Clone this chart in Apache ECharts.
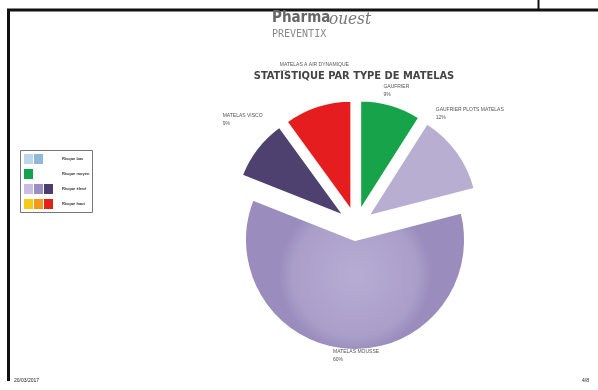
<!DOCTYPE html>
<html>
<head>
<meta charset="utf-8">
<script src="https://cdn.jsdelivr.net/npm/echarts@6/dist/echarts.min.js"></script>
<style>
  html, body { margin: 0; padding: 0; background: #fff; }
  #chart { width: 598px; height: 390px; }
</style>
</head>
<body>
<div id="chart"></div>
<script>
// Mattress types and their shares (%)
const categories = ['GAUFRIER', 'GAUFRIER PLOTS MATELAS', 'MATELAS MOUSSE', 'MATELAS VISCO', 'MATELAS A AIR DYNAMIQUE'];
const values = [9, 12, 60, 9, 10];
const sliceColors = ['#17a34a', '#b8aed2', '#aa9ec8', '#4e4170', '#e61d1f'];

// Risk legend rows
const legendLabels = ['Risque bas', 'Risque moyen', 'Risque élevé', 'Risque haut'];
const legendSwatches = [
  ['#bcd6ea', '#8fb9da'],
  ['#12a34f'],
  ['#c9bde3', '#9a8ec3', '#4a3e6e'],
  ['#f5cb17', '#f39a1c', '#e2211b']
];

// caption nudges (px): captions are left-aligned and pushed to their spots on the page
const labelShift = [[-13, -12], [-28, -37], [-10, 4], [-28, -28], [-32, -36]];

const chart = echarts.init(document.getElementById('chart'), null, { renderer: 'canvas' });

const graphics = [
  // page frame
  { type: 'line', shape: { x1: 7, y1: 10, x2: 598, y2: 10 }, style: { stroke: '#111', lineWidth: 3 } },
  { type: 'line', shape: { x1: 8.5, y1: 9, x2: 8.5, y2: 381 }, style: { stroke: '#111', lineWidth: 3 } },
  { type: 'line', shape: { x1: 538.5, y1: 0, x2: 538.5, y2: 10 }, style: { stroke: '#111', lineWidth: 2 } },
  // logo
  { type: 'text', left: 272, top: 11, style: { text: 'Pharma', font: 'bold 15px "DejaVu Sans Condensed"', fill: '#666' } },
  { type: 'text', left: 329, top: 11, style: { text: 'ouest', font: 'italic 17px "DejaVu Serif Condensed"', fill: '#777' } },
  { type: 'text', left: 272, top: 29, style: { text: 'PREVENTIX', font: '10px "DejaVu Sans Mono"', fill: '#8a8a8a', letterSpacing: 5 } },
  // footer
  { type: 'text', left: 14, top: 378, style: { text: '20/03/2017', font: '5px "Liberation Sans"', fill: '#222' } },
  { type: 'text', left: 582, top: 378, style: { text: '4/8', font: '5px "Liberation Sans"', fill: '#222' } },
  // legend box
  { type: 'rect', shape: { x: 20.5, y: 150.5, width: 72, height: 62 }, style: { fill: '#fff', stroke: '#777', lineWidth: 1 } }
];

legendSwatches.forEach(function (row, i) {
  row.forEach(function (c, j) {
    graphics.push({ type: 'rect', shape: { x: 24 + j * 10, y: 154 + i * 15, width: 9, height: 10 }, style: { fill: c } });
  });
  graphics.push({ type: 'text', left: 62, top: 157 + i * 15, style: { text: legendLabels[i], font: 'bold 4px "Liberation Sans"', fill: '#333' } });
});

chart.setOption({
  animation: false,
  title: {
    text: 'STATISTIQUE PAR TYPE DE MATELAS',
    left: 352, top: 71, textAlign: 'center', padding: [0, 2],
    backgroundColor: '#fff',
    textStyle: { fontSize: 11, fontWeight: 'bold', color: '#444', fontFamily: 'DejaVu Sans Condensed' }
  },
  graphic: graphics,
  series: [{
    type: 'pie',
    center: [356, 225],
    radius: 110,
    startAngle: 90,
    clockwise: true,
    selectedMode: 'multiple',
    selectedOffset: 15,
    avoidLabelOverlap: false,
    itemStyle: { borderColor: '#fff', borderWidth: 2 },
    label: {
      show: true, position: 'outside', fontSize: 5, color: '#555', lineHeight: 8,
      formatter: function (p) { return p.name + '\n' + p.value + '%'; }
    },
    labelLine: { show: false, length: 2, length2: 0 },
    labelLayout: function (p) {
      const s = labelShift[p.dataIndex];
      return { dx: s[0], dy: s[1], align: 'left' };
    },
    data: categories.map(function (name, i) {
      return {
        name: name, value: values[i], selected: true,
        itemStyle: {
          color: i === 2 ? {
            type: 'radial', x: 0.5, y: 0.5, r: 0.5,
            colorStops: [{ offset: 0, color: '#b7acd3' }, { offset: 0.8, color: '#ab9fca' }, { offset: 1, color: '#9a8dbd' }]
          } : sliceColors[i]
        }
      };
    })
  }]
});
</script>
</body>
</html>
